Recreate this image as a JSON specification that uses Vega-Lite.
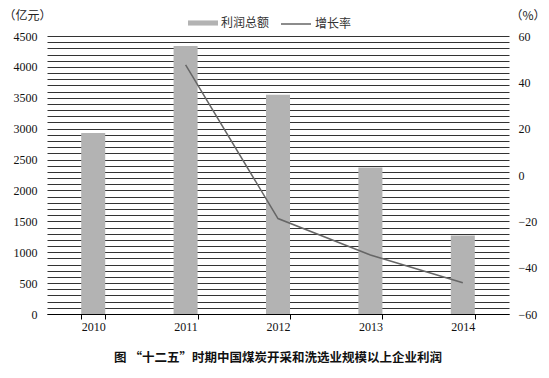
{
  "$schema": "https://vega.github.io/schema/vega-lite/v6.json",
  "autosize": "none",
  "width": 462,
  "height": 278,
  "padding": {"left": 47, "top": 36, "right": 40, "bottom": 64},
  "background": "white",
  "data": {
    "values": [
      {"year": "2010", "profit": 2930, "growth": null},
      {"year": "2011", "profit": 4340, "growth": 47.5},
      {"year": "2012", "profit": 3550, "growth": -18.8},
      {"year": "2013", "profit": 2370, "growth": -34.5},
      {"year": "2014", "profit": 1270, "growth": -46.5}
    ]
  },
  "title": {
    "text": "图   “十二五”时期中国煤炭开采和洗选业规模以上企业利润",
    "orient": "bottom",
    "offset": 20,
    "anchor": "middle",
    "font": "Noto Sans CJK SC",
    "fontSize": 12.5,
    "fontWeight": "bold",
    "color": "#111"
  },
  "config": {
    "view": {"stroke": null},
    "axis": {"labelFont": "Liberation Serif", "labelFontSize": 12, "labelColor": "#111", "titleFont": "Noto Sans CJK SC", "titleFontWeight": "normal", "titleFontSize": 12, "titleColor": "#222"},
    "legend": {"labelFont": "Noto Sans CJK SC", "labelFontSize": 12, "labelColor": "#333"}
  },
  "encoding": {
    "x": {
      "field": "year",
      "type": "ordinal",
      "scale": {"paddingInner": 0.74, "paddingOuter": 0.37},
      "axis": {"title": null, "labelAngle": 0, "tickBand": "extent", "tickSize": 5, "tickColor": "#000", "domainColor": "#000", "labelPadding": 2, "grid": false}
    }
  },
  "layer": [
    {
      "mark": {"type": "bar"},
      "encoding": {
        "y": {
          "field": "profit",
          "type": "quantitative",
          "scale": {"domain": [0, 4500], "nice": false},
          "axis": {
            "title": "（亿元）",
            "titleAngle": 0,
            "titleX": -44,
            "titleY": -21,
            "titleAlign": "left",
            "titleBaseline": "middle",
            "values": [0,100,200,300,400,500,600,700,800,900,1000,1100,1200,1300,1400,1500,1600,1700,1800,1900,2000,2100,2200,2300,2400,2500,2600,2700,2800,2900,3000,3100,3200,3300,3400,3500,3600,3700,3800,3900,4000,4100,4200,4300,4400,4500],
            "labelExpr": "datum.value % 500 === 0 ? datum.label : ''",
            "labelOverlap": false,
            "format": "d",
            "ticks": false,
            "domain": false,
            "labelPadding": 10,
            "grid": true,
            "gridColor": "#333",
            "gridWidth": 1
          }
        },
        "fill": {
          "datum": "利润总额",
          "scale": {"range": ["#b3b3b3"]},
          "legend": {
            "title": null,
            "orient": "none",
            "legendX": 141,
            "legendY": -28,
            "padding": 0,
            "symbolType": "M-1,-0.17H1V0.17H-1Z",
            "symbolSize": 900,
            "symbolStrokeWidth": 0,
            "labelOffset": 3
          }
        }
      }
    },
    {
      "mark": {"type": "line", "strokeWidth": 1.5},
      "encoding": {
        "y": {
          "field": "growth",
          "type": "quantitative",
          "scale": {"domain": [-60, 60], "nice": false},
          "axis": {
            "orient": "right",
            "title": "（%）",
            "titleAngle": 0,
            "titleX": 1,
            "titleY": -21,
            "titleAlign": "left",
            "titleBaseline": "middle",
            "values": [-60, -40, -20, 0, 20, 40, 60],
            "ticks": false,
            "domain": false,
            "grid": false,
            "labelPadding": 9
          }
        },
        "stroke": {
          "datum": "增长率",
          "scale": {"range": ["#666666"]},
          "legend": {
            "title": null,
            "orient": "none",
            "legendX": 233,
            "legendY": -28,
            "padding": 0,
            "symbolType": "stroke",
            "symbolSize": 900,
            "symbolStrokeWidth": 1.5,
            "labelOffset": 3
          }
        }
      }
    }
  ],
  "resolve": {"scale": {"y": "independent"}, "axis": {"y": "independent"}}
}
